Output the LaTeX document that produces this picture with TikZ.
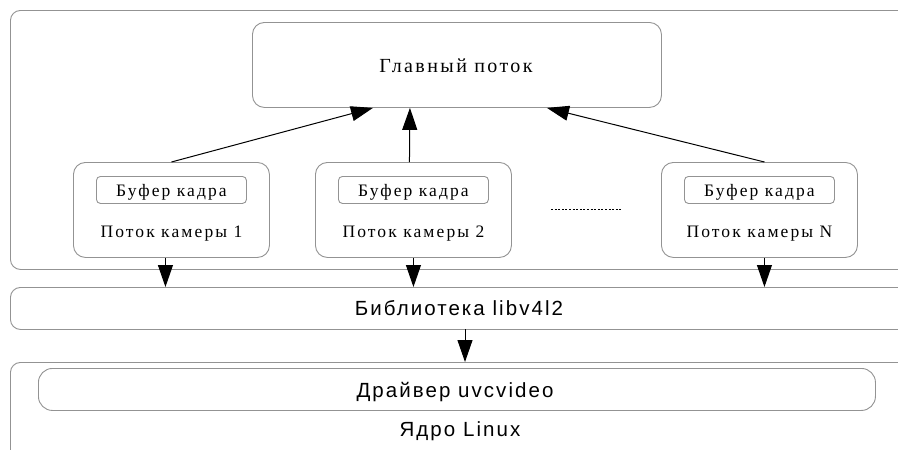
\documentclass[tikz,border=0pt]{standalone}
\usepackage{fontspec}
\setmainfont{Liberation Serif}[LetterSpace=12]
\setsansfont{Liberation Sans}[LetterSpace=10]
\usetikzlibrary{positioning,arrows.meta}

\begin{document}
\begin{tikzpicture}[
    x=1pt, y=-1pt,
    box/.style={draw=gray!85, line width=0.9pt, rounded corners=10pt, inner sep=0pt, anchor=north west},
    lbl/.style={anchor=base, inner sep=0pt},
    >={Triangle[length=22pt,width=15pt]},
    arr/.style={->, line width=1pt, black}
  ]
    \useasboundingbox[fill=white] (0,0) rectangle (898,450);
    \clip (0,0) rectangle (898,450);

    % user space
    \node[box, minimum width=900pt, minimum height=259pt] (user) at (10,10) {};
    \node[box, rounded corners=12pt, minimum width=409pt, minimum height=85pt] (main) at (252,22) {};
    \node[lbl, font=\fontsize{20}{23}\selectfont] (maintxt) at (456,72) {Главный поток};

    % camera threads
    \foreach \n/\x/\t in {cam1/73/1, cam2/315/2, camN/661/N} {
      \node[box, rounded corners=12pt, minimum width=196pt, minimum height=95pt] (\n) at (\x,162) {};
      \node[box, rounded corners=4pt, minimum width=150pt, minimum height=27pt, anchor=north] (\n buf) at ([yshift=-14pt]\n.north) {};
      \node[lbl, font=\fontsize{17.5}{20}\selectfont] (\n buftxt) at ([yshift=-34pt]\n.north) {Буфер кадра};
      \node[lbl, font=\fontsize{17.5}{20}\selectfont] (\n txt) at ([yshift=-75pt]\n.north) {Поток камеры \t};
    }
    \draw[dash pattern=on 2pt off 1.6pt, line width=1pt] (551,209) coordinate (dotA) -- (621,209) coordinate (dotB);

    % libraries and kernel
    \node[box, minimum width=900pt, minimum height=42pt] (lib) at (10,287) {};
    \node[lbl, font=\sffamily\fontsize{20.5}{24}\selectfont] (libtxt) at (459,315) {Библиотека libv4l2};
    \node[box, minimum width=900pt, minimum height=100pt] (kernel) at (10,362) {};
    \node[box, rounded corners=14pt, minimum width=837pt, minimum height=42pt] (drv) at (38,368) {};
    \node[lbl, font=\sffamily\fontsize{20.5}{24}\selectfont] (drvtxt) at (455,397) {Драйвер uvcvideo};
    \node[lbl, font=\sffamily\fontsize{20.5}{24}\selectfont] (kerntxt) at (460,436) {Ядро Linux};

    \draw[arr] (cam1.north) -- ([xshift=-84pt]main.south);
    \draw[arr] ([xshift=-4pt]cam2.north) -- ([xshift=-47pt]main.south);
    \draw[arr] ([xshift=5pt]camN.north) -- ([xshift=90pt]main.south);

    \draw[arr] ([xshift=-6pt]cam1.south) -- ([xshift=-6pt]cam1.south |- lib.north);
    \draw[arr] (cam2.south) -- (cam2.south |- lib.north);
    \draw[arr] ([xshift=5pt]camN.south) -- ([xshift=5pt]camN.south |- lib.north);
    \draw[arr] (465,329) coordinate (libout) -- (libout |- kernel.north);
  \end{tikzpicture}
\end{document}
